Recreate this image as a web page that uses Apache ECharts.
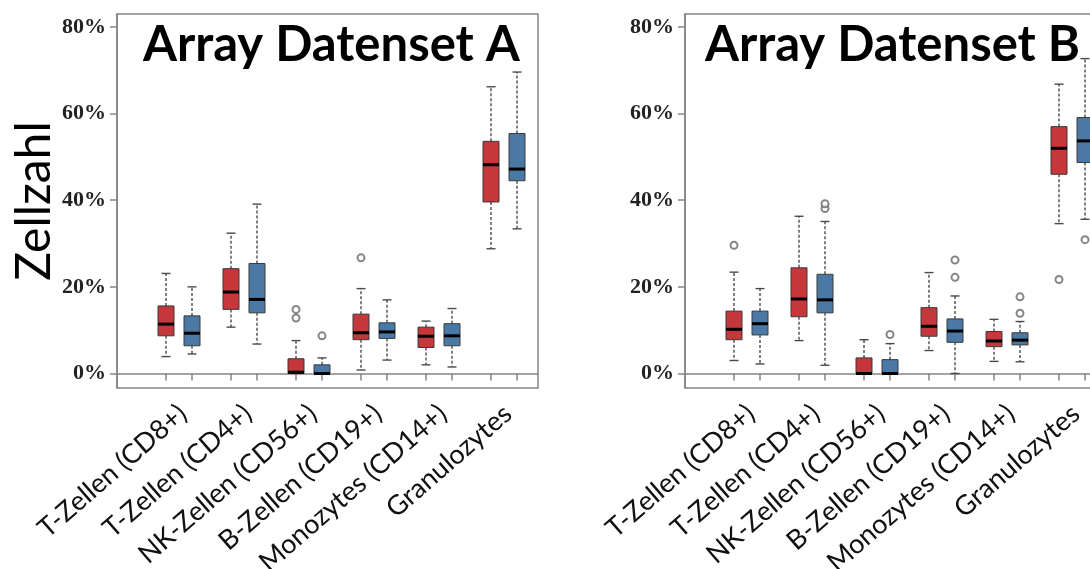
<!DOCTYPE html>
<html><head><meta charset="utf-8">
<script src="https://cdn.jsdelivr.net/npm/echarts@6/dist/echarts.min.js"></script>
<style>html,body{margin:0;padding:0;background:#fff}#c{width:1090px;height:569px}</style>
</head><body><div id="c"></div>
<script>
// ---------- data ----------
const categories = ['T-Zellen (CD8+)', 'T-Zellen (CD4+)', 'NK-Zellen (CD56+)', 'B-Zellen (CD19+)', 'Monozytes (CD14+)', 'Granulozytes'];
const yTicks = [0, 20, 40, 60, 80];
const panelTitles = ['Array Datenset A', 'Array Datenset B'];
const yAxisTitle = 'Zellzahl';
// boxes: [min, Q1, median, Q3, max] in %
const aRed  = [[3.9, 8.7, 11.4, 15.6, 23.1], [10.7, 14.8, 18.8, 24.2, 32.4], [0, 0, 0.3, 3.4, 7.6], [0.8, 7.8, 9.4, 13.7, 19.6], [2.0, 6.0, 8.6, 10.7, 12.1], [28.8, 39.6, 48.2, 53.6, 66.2]];
const aBlue = [[4.5, 6.4, 9.3, 13.3, 20.0], [6.8, 14.0, 17.1, 25.4, 39.1], [0, 0, 0, 2.0, 3.6], [3.1, 8.1, 9.6, 11.7, 17.0], [1.5, 6.4, 8.7, 11.5, 15.0], [33.4, 44.5, 47.2, 55.4, 69.6]];
const bRed  = [[3.0, 7.8, 10.2, 14.4, 23.4], [7.6, 13.1, 17.2, 24.4, 36.3], [0, 0, 0, 3.6, 7.8], [5.3, 8.6, 10.9, 15.2, 23.3], [2.8, 6.2, 7.5, 9.7, 12.5], [34.6, 46.0, 52.0, 57.0, 66.8]];
const bBlue = [[2.2, 8.9, 11.5, 14.4, 19.6], [1.9, 14.0, 17.0, 22.9, 35.1], [0, 0, 0, 3.2, 6.9], [0, 7.2, 9.8, 12.6, 17.9], [2.7, 6.6, 7.7, 9.4, 12.0], [35.6, 48.7, 53.7, 59.1, 72.7]];
// outliers: [category index, value %]
const aRedOut  = [[2, 14.8], [2, 12.8], [3, 26.7]];
const aBlueOut = [[2, 8.7]];
const bRedOut  = [[0, 29.6], [5, 21.7]];
const bBlueOut = [[1, 38.1], [1, 39.2], [2, 9.0], [3, 22.2], [3, 26.2], [4, 13.9], [4, 17.7], [5, 30.9]];

// ---------- styling ----------
const RED = '#C6373C', BLUE = '#4A79A5';
const OFF = 0.2;          // red left / blue right of group centre
const LABEL_SHIFT = 0.06; // label anchor right of group centre
const FRAME = '#858585';

function boxSeries(arr, off, color, gi) {
  return {
    type: 'custom', xAxisIndex: gi, yAxisIndex: gi,
    data: arr.map((b, i) => [i + 1 + off, ...b]),
    encode: { x: 0, y: [1, 2, 3, 4, 5] },
    renderItem: function (params, api) {
      const x = api.value(0);
      const lo = api.coord([x, api.value(1)]);
      const q1 = api.coord([x, api.value(2)]);
      const md = api.coord([x, api.value(3)]);
      const q3 = api.coord([x, api.value(4)]);
      const hi = api.coord([x, api.value(5)]);
      const cx = lo[0], hw = 8, cw = 4.5;
      const wStyle = { stroke: '#4a4a4a', lineWidth: 1.4, lineDash: [3, 2] };
      const cStyle = { stroke: '#4a4a4a', lineWidth: 1.4 };
      return {
        type: 'group', children: [
          { type: 'line', shape: { x1: cx, y1: q3[1], x2: cx, y2: hi[1] }, style: wStyle },
          { type: 'line', shape: { x1: cx, y1: q1[1], x2: cx, y2: lo[1] }, style: wStyle },
          { type: 'line', shape: { x1: cx - cw, y1: hi[1], x2: cx + cw, y2: hi[1] }, style: cStyle },
          { type: 'line', shape: { x1: cx - cw, y1: lo[1], x2: cx + cw, y2: lo[1] }, style: cStyle },
          { type: 'rect', shape: { x: cx - hw, y: q3[1], width: 2 * hw, height: q1[1] - q3[1] }, style: { fill: color, stroke: '#3a3a3a', lineWidth: 1 } },
          { type: 'line', shape: { x1: cx - hw, y1: md[1], x2: cx + hw, y2: md[1] }, style: { stroke: '#000', lineWidth: 3 } }
        ]
      };
    }
  };
}
function outSeries(arr, off, gi) {
  return {
    type: 'scatter', xAxisIndex: gi, yAxisIndex: gi,
    data: arr.map(o => [o[0] + 1 + off, o[1]]),
    symbol: 'emptyCircle', symbolSize: 7,
    itemStyle: { color: '#666', borderWidth: 1.2 }, z: 3
  };
}
const tickPos = categories.flatMap((c, i) => [i + 1 - OFF, i + 1 + OFF]);
const labelPos = categories.map((c, i) => i + 1 + LABEL_SHIFT);

function xAxisFor(gi) {
  return {
    type: 'value', gridIndex: gi, min: 0.046, max: 6.523,
    axisLine: { show: true, lineStyle: { color: FRAME, width: 1.5 } },
    splitLine: { show: false },
    axisTick: { show: true, customValues: tickPos, length: 7, lineStyle: { color: FRAME, width: 1.5 } },
    axisLabel: {
      customValues: labelPos, formatter: v => categories[Math.round(v - LABEL_SHIFT) - 1],
      rotate: 41, fontFamily: 'Lato', fontSize: 27, color: '#111', margin: 22
    }
  };
}
function yAxisFor(gi) {
  const ax = {
    type: 'value', gridIndex: gi, min: -3.35, max: 83,
    axisLine: { show: true, lineStyle: { color: FRAME, width: 1.5 } },
    splitLine: { show: false },
    axisTick: { show: true, customValues: yTicks, length: 7, lineStyle: { color: FRAME, width: 1.5 } },
    axisLabel: {
      customValues: yTicks, formatter: '{value}%',
      fontFamily: 'Liberation Serif', fontWeight: 'bold', fontSize: 22, color: '#222', margin: 11
    }
  };
  if (gi === 0) {
    Object.assign(ax, {
      name: yAxisTitle, nameLocation: 'middle', nameRotate: 90, nameGap: 58,
      nameTextStyle: { fontFamily: 'Lato', fontSize: 48, color: '#000' }
    });
  }
  return ax;
}
const gridBase = { top: 14, width: 421, height: 374, show: true, borderColor: FRAME, borderWidth: 1.5, backgroundColor: 'transparent', containLabel: false, outerBoundsMode: 'none' };

const chart = echarts.init(document.getElementById('c'), null, { renderer: 'canvas' });
chart.setOption({
  backgroundColor: '#fff',
  animation: false,
  title: [
    { text: panelTitles[0], left: 143, top: 21, padding: 0, textStyle: { fontFamily: 'Lato', fontWeight: 'bold', fontSize: 49, color: '#000' } },
    { text: panelTitles[1], left: 705, top: 21, padding: 0, textStyle: { fontFamily: 'Lato', fontWeight: 'bold', fontSize: 49, color: '#000' } }
  ],
  grid: [
    Object.assign({ left: 117 }, gridBase),
    Object.assign({ left: 685 }, gridBase)
  ],
  xAxis: [xAxisFor(0), xAxisFor(1)],
  yAxis: [yAxisFor(0), yAxisFor(1)],
  series: [
    boxSeries(aRed, -OFF, RED, 0), boxSeries(aBlue, OFF, BLUE, 0),
    outSeries(aRedOut, -OFF, 0), outSeries(aBlueOut, OFF, 0),
    boxSeries(bRed, -OFF, RED, 1), boxSeries(bBlue, OFF, BLUE, 1),
    outSeries(bRedOut, -OFF, 1), outSeries(bBlueOut, OFF, 1)
  ]
});
</script></body></html>
